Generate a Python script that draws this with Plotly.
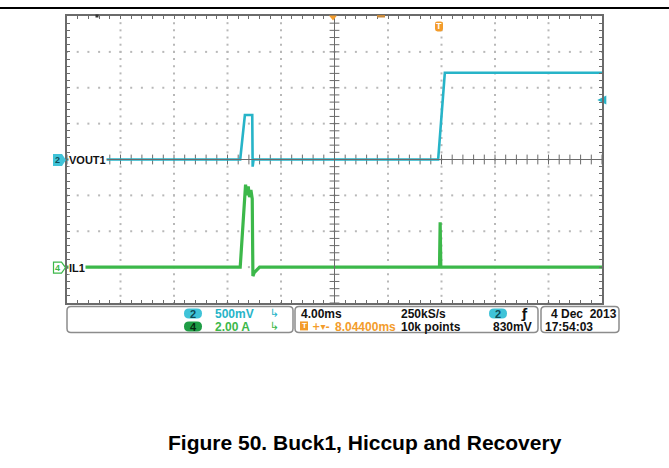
import numpy as np
import plotly.graph_objects as go

# ---------------- data ----------------
TIME_DIV_MS = 4.0          # 4.00 ms/div, 10 divisions
VOUT_SCALE_V = 0.5         # 500 mV/div (channel 2)
IL_SCALE_A = 2.0           # 2.00 A/div (channel 4)
IL_OFFSET_DIV = -3         # channel 4 ground marker, 3 div below centre
TRIG_LEVEL_V = 0.83        # 830 mV

vout_t_ms = [0, 12.95, 13.3, 13.85, 13.88, 13.95, 27.75, 28.25, 40]
vout_v = [0, 0, 0.62, 0.62, -0.1, 0, 0, 1.21, 1.21]

il_t_ms = [0, 12.95, 13.35, 13.45, 13.55, 13.65, 13.75, 13.85, 13.9, 14.0, 14.4,
           27.85, 27.9, 27.95, 40]
il_a = [0, 0, 4.6, 4.0, 4.5, 3.9, 4.3, 3.8, -0.5, -0.3, 0,
        0, 2.5, 0, 0]

ch_labels = ["VOUT1", "IL1"]
info_row1 = ["500mV", "4.00ms", "250kS/s", "4 Dec  2013"]
info_row2 = ["2.00 A", "8.04400ms", "10k points", "830mV", "17:54:03"]
caption = "Figure 50. Buck1, Hiccup and Recovery"

# ---------------- layout geometry ----------------
W, H = 669, 468
L, R, T, B = 67, 602, 15.5, 303.5

CYAN = "#27b4c8"
GREEN = "#3cb84a"
ORANGE = "#f39c2b"
FRAME = "#6b6b6b"


def fx(px):
    return (px - L) / (R - L)


def fy(py):
    return (B - py) / (B - T)


def rrect(x0, y0, x1, y1, r):
    p = [
        ("M", [(x0 + r, y0)]), ("L", [(x1 - r, y0)]), ("Q", [(x1, y0), (x1, y0 + r)]),
        ("L", [(x1, y1 - r)]), ("Q", [(x1, y1), (x1 - r, y1)]),
        ("L", [(x0 + r, y1)]), ("Q", [(x0, y1), (x0, y1 - r)]),
        ("L", [(x0, y0 + r)]), ("Q", [(x0, y0), (x0 + r, y0)]),
    ]
    s = ""
    for cmd, pts in p:
        s += cmd + " " + " ".join(f"{fx(a):.5f},{fy(b):.5f}" for a, b in pts) + " "
    return s + "Z"


def poly(pts):
    return "M " + " L ".join(f"{fx(a):.5f},{fy(b):.5f}" for a, b in pts) + " Z"


fig = go.Figure()

x_max = 10 * TIME_DIV_MS
minor_x = np.arange(0, x_max + 1e-9, TIME_DIV_MS / 5)
minor_y = np.arange(-4, 4 + 1e-9, 0.2)

# dotted graticule
gx, gy = [], []
for k in range(1, 10):
    if k == 5:
        continue
    gx += [k * TIME_DIV_MS] * len(minor_y)
    gy += list(minor_y)
for k in [-3, -2, -1, 1, 2, 3]:
    gx += list(minor_x)
    gy += [k] * len(minor_x)
fig.add_trace(go.Scatter(x=gx, y=gy, mode="markers", hoverinfo="skip",
                         marker=dict(symbol="square", size=2, color="#b8b8b8", line=dict(width=0))))

# centre-line ticks
fig.add_trace(go.Scatter(x=list(minor_x), y=[0] * len(minor_x), mode="markers", hoverinfo="skip",
                         marker=dict(symbol="line-ns", size=7, line=dict(color=FRAME, width=1))))
fig.add_trace(go.Scatter(x=[5 * TIME_DIV_MS] * len(minor_y), y=list(minor_y), mode="markers",
                         hoverinfo="skip",
                         marker=dict(symbol="line-ew", size=7, line=dict(color=FRAME, width=1))))

# waveforms
fig.add_trace(go.Scatter(x=vout_t_ms, y=[v / VOUT_SCALE_V for v in vout_v], mode="lines",
                         line=dict(color=CYAN, width=2.6), name="VOUT1"))
fig.add_trace(go.Scatter(x=il_t_ms, y=[IL_OFFSET_DIV + a / IL_SCALE_A for a in il_a], mode="lines",
                         line=dict(color=GREEN, width=3.2), name="IL1"))

# trigger level arrow (right edge)
fig.add_trace(go.Scatter(x=[x_max - 0.35], y=[TRIG_LEVEL_V / VOUT_SCALE_V], mode="markers",
                         hoverinfo="skip", cliponaxis=False,
                         marker=dict(symbol="arrow-left", size=9, color=CYAN, line=dict(width=0))))

shapes = []
# centre lines
shapes.append(dict(type="line", xref="x", yref="y", x0=x_max / 2, x1=x_max / 2, y0=-4, y1=4,
                   line=dict(color=FRAME, width=1)))
shapes.append(dict(type="line", xref="x", yref="y", x0=0, x1=x_max, y0=0, y1=0,
                   line=dict(color=FRAME, width=1)))
# page rule at top
shapes.append(dict(type="line", xref="paper", yref="paper", x0=fx(0), x1=fx(669), y0=fy(7.5), y1=fy(7.5),
                   line=dict(color="#000000", width=2)))
# info boxes
for (a, b, c, d) in [(67, 307, 293, 333), (295, 307, 538, 333), (541, 307, 619, 333)]:
    shapes.append(dict(type="path", xref="paper", yref="paper", path=rrect(a, b, c, d, 4),
                       line=dict(color="#8c8c8c", width=1.5), fillcolor="rgba(0,0,0,0)"))
# pills
for (cx, cy, col) in [(193, 314, "#3fc3d8"), (193, 327, "#1f9d45"), (498, 314, "#3fc3d8")]:
    shapes.append(dict(type="path", xref="paper", yref="paper", path=rrect(cx - 9, cy - 5, cx + 9, cy + 5, 5),
                       line=dict(width=0), fillcolor=col))
# channel ground badges
shapes.append(dict(type="path", xref="paper", yref="paper",
                   path=poly([(53, 154), (62, 154), (66, 160), (62, 166), (53, 166)]),
                   line=dict(width=0), fillcolor="#3fc3d8"))
shapes.append(dict(type="path", xref="paper", yref="paper",
                   path=poly([(53.5, 262.5), (61.5, 262.5), (65.5, 268), (61.5, 273.5), (53.5, 273.5)]),
                   line=dict(color=GREEN, width=1.2), fillcolor="white"))
# top markers
shapes.append(dict(type="path", xref="paper", yref="paper",
                   path=poly([(329, 15), (337, 15), (333, 20)]), line=dict(width=0), fillcolor=ORANGE))
shapes.append(dict(type="rect", xref="paper", yref="paper", x0=fx(377), x1=fx(385), y0=fy(17), y1=fy(14.5),
                   line=dict(width=0), fillcolor="#c9893a"))
shapes.append(dict(type="rect", xref="paper", yref="paper", x0=fx(95.5), x1=fx(98.5), y0=fy(17), y1=fy(14),
                   line=dict(width=0), fillcolor="#333333"))
# trigger "T" badge
shapes.append(dict(type="path", xref="paper", yref="paper", path=rrect(435, 21, 443, 31, 2.5),
                   line=dict(width=0), fillcolor=ORANGE))
# orange T in info box
shapes.append(dict(type="rect", xref="paper", yref="paper", x0=fx(300), x1=fx(308), y0=fy(331), y1=fy(322),
                   line=dict(width=0), fillcolor=ORANGE))

ann = []
FONT = "Liberation Sans"


def txt(x, y, s, color="#111111", size=12, bold=True, anchor="left", family=FONT, bg=None):
    d = dict(xref="paper", yref="paper", x=fx(x), y=fy(y), text=f"<b>{s}</b>" if bold else s,
             showarrow=False, xanchor=anchor, yanchor="middle",
             font=dict(family=family, size=size, color=color))
    if bg:
        d.update(bgcolor=bg, borderpad=0)
    ann.append(d)


txt(57.5, 160, "2", color="#0d4f5a", size=9, anchor="center")
txt(57.5, 268, "4", color=GREEN, size=9, anchor="center")
txt(68, 160, ch_labels[0], size=11, bg="white")
txt(68, 268, ch_labels[1], size=11, bg="white")
txt(439, 26, "T", color="white", size=9, anchor="center")

txt(193, 314.5, "2", color="#0e4a55", size=11, anchor="center")
txt(193, 327.5, "4", color="#062a10", size=11, anchor="center")
txt(498, 314.5, "2", color="#0e4a55", size=11, anchor="center")

txt(213, 314.5, info_row1[0], color=CYAN, size=12)
txt(213, 327.5, info_row2[0], color=GREEN, size=12)
txt(268, 314.5, "↳", color=CYAN, size=11, bold=False, family="DejaVu Sans")
txt(268, 327.5, "↳", color=GREEN, size=11, bold=False, family="DejaVu Sans")

txt(299, 314.5, info_row1[1], size=12)
txt(304, 326.5, "T", color="white", size=8, anchor="center")
txt(310, 327.5, "+▾-", color=ORANGE, size=10, family="DejaVu Sans")
txt(333, 327.5, info_row2[1], color=ORANGE, size=12)
txt(399, 314.5, info_row1[2], size=12)
txt(399, 327.5, info_row2[2], size=12)
txt(524, 314.5, "ƒ", size=12, anchor="center", family="DejaVu Sans")
txt(534, 327.5, info_row2[3], size=12, anchor="right")
txt(549, 314.5, info_row1[3], size=12)
txt(543, 327.5, info_row2[4], size=12)

ann.append(dict(xref="paper", yref="paper", x=fx(365), y=fy(443), text=f"<b>{caption}</b>",
                showarrow=False, xanchor="center", yanchor="middle",
                font=dict(family=FONT, size=21, color="#000000")))

fig.update_layout(
    width=W, height=H,
    margin=dict(l=L, r=W - R, t=T, b=H - B, pad=0),
    paper_bgcolor="white", plot_bgcolor="white",
    showlegend=False,
    shapes=shapes, annotations=ann,
    xaxis=dict(range=[0, x_max], showgrid=False, zeroline=False, showticklabels=False,
               showline=True, linecolor=FRAME, linewidth=2, mirror="ticks",
               ticks="inside", tickvals=list(minor_x), ticklen=3, tickcolor=FRAME, fixedrange=True),
    yaxis=dict(range=[-4, 4], showgrid=False, zeroline=False, showticklabels=False,
               showline=True, linecolor=FRAME, linewidth=2, mirror="ticks",
               ticks="inside", tickvals=list(minor_y), ticklen=3, tickcolor=FRAME, fixedrange=True),
)

fig.write_html("out.html", config={"displayModeBar": False},
               post_script="document.body.style.margin='0';document.body.style.padding='0';")
